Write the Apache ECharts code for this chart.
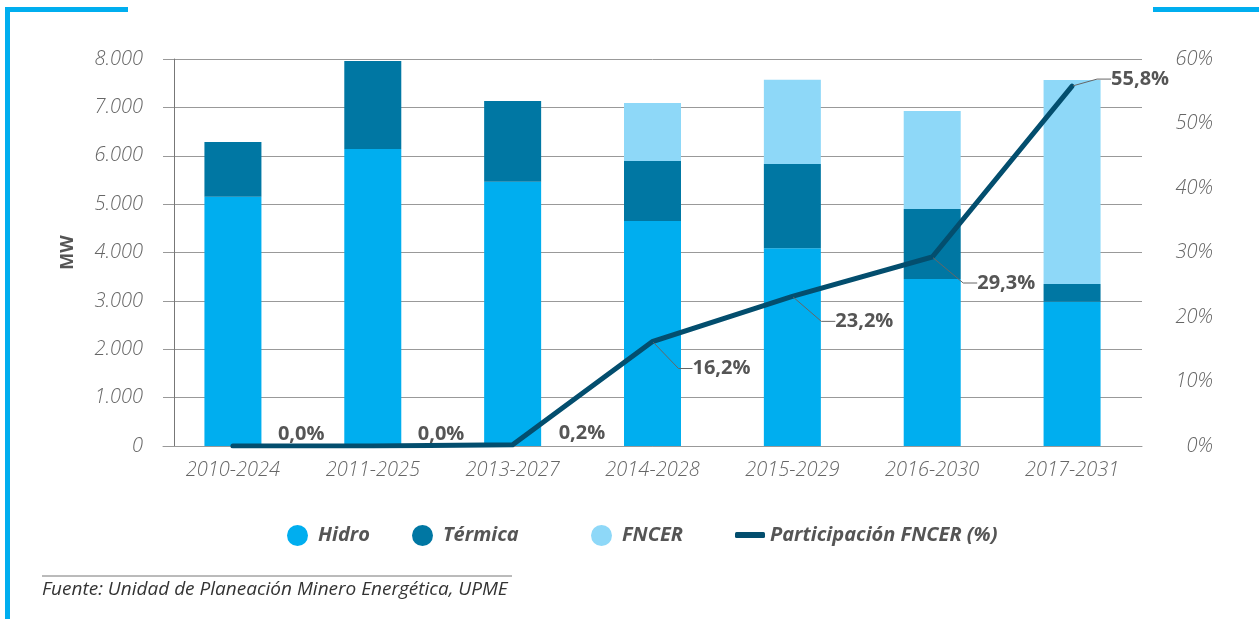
<!DOCTYPE html>
<html lang="es">
  <head>
    <meta charset="UTF-8" />
    <script src="https://cdn.jsdelivr.net/npm/echarts@6/dist/echarts.min.js"></script>
    <title>Capacidad por plan de expansión</title>
    <style>
      html,
      body,
      #main {
        width: 100%;
        height: 100%;
        margin: 0;
        padding: 0;
        overflow: hidden;
        background: #fff;
      }
    </style>
  </head>
  <body>
    <div id="main"></div>
    <script>
      // datos (MW y %)
      const periodos = ["2010-2024", "2011-2025", "2013-2027", "2014-2028", "2015-2029", "2016-2030", "2017-2031"];
      const hidro = [5150, 6140, 5460, 4650, 4090, 3450, 2980];
      const termica = [1135, 1820, 1670, 1240, 1740, 1450, 370];
      const fncer = [0, 0, 0, 1200, 1740, 2025, 4215];
      const participacion = [0.0, 0.0, 0.2, 16.2, 23.2, 29.3, 55.8];

      // desplazamiento de las etiquetas del % respecto al punto
      const labelShift = [[44, -12], [44, -12], [45, -11], [39, 27], [42, 25], [44, 26], [38, -7]];

      const font = "Open Sans";
      const azul = "#00AEEF";
      const myChart = echarts.init(document.getElementById("main"));

      const legendText = (pad) => ({
        fontFamily: font,
        fontSize: 20,
        fontStyle: "italic",
        fontWeight: "bold",
        color: "#555",
        padding: [0, 0, 0, pad],
      });

      const legendItem = (name, left, extra) =>
        Object.assign(
          {
            data: [name],
            left: left,
            top: 520,
            icon: "circle",
            itemWidth: 21,
            itemHeight: 22,
            selectedMode: false,
            textStyle: legendText(5),
          },
          extra || {}
        );

      const axisText = {
        fontFamily: font,
        fontSize: 20,
        fontStyle: "italic",
        fontWeight: 300,
        color: "#666",
      };

      const option = {
        animation: false,
        grid: { left: 163, right: 117, top: 59, bottom: 173 },
        legend: [
          legendItem("Hidro", 282),
          legendItem("Térmica", 407),
          legendItem("FNCER", 586),
          legendItem("Participación FNCER (%)", 730, {
            icon: "roundRect",
            itemWidth: 30,
            itemHeight: 6,
            textStyle: legendText(0),
          }),
        ],
        xAxis: {
          type: "category",
          data: periodos,
          axisLine: { lineStyle: { color: "#999", width: 1 } },
          axisTick: { show: false },
          axisLabel: Object.assign({ margin: 14 }, axisText),
        },
        yAxis: [
          {
            type: "value",
            min: 0,
            max: 8000,
            interval: 1000,
            offset: -11,
            name: "MW",
            nameLocation: "middle",
            nameGap: 97,
            nameTextStyle: {
              fontFamily: font,
              fontSize: 18,
              fontWeight: "bold",
              color: "#555",
            },
            axisLine: { show: true, lineStyle: { color: "#777", width: 1 } },
            axisTick: { show: false },
            axisLabel: Object.assign(
              {
                margin: 31,
                formatter: (v) => v.toLocaleString("de-DE"),
              },
              axisText
            ),
            splitLine: { lineStyle: { color: "#999", width: 1 } },
          },
          {
            type: "value",
            min: 0,
            max: 60,
            interval: 10,
            axisLine: { show: false },
            axisTick: { show: false },
            splitLine: { show: false },
            axisLabel: Object.assign(
              {
                margin: 71,
                align: "right",
                formatter: "{value}%",
              },
              axisText
            ),
          },
        ],
        series: [
          {
            name: "Hidro",
            type: "bar",
            stack: "mw",
            barWidth: 57,
            itemStyle: { color: azul },
            data: hidro,
          },
          {
            name: "Térmica",
            type: "bar",
            stack: "mw",
            barWidth: 57,
            itemStyle: { color: "#0077A3" },
            data: termica,
          },
          {
            name: "FNCER",
            type: "bar",
            stack: "mw",
            barWidth: 57,
            itemStyle: { color: "#8ED8F8" },
            data: fncer,
          },
          {
            name: "Participación FNCER (%)",
            type: "line",
            yAxisIndex: 1,
            z: 5,
            symbol: "circle",
            symbolSize: 2,
            lineStyle: { color: "#034E6E", width: 5, cap: "round", join: "miter" },
            itemStyle: { color: "#034E6E" },
            data: participacion.map((v, i) => (i < 3 ? { value: v, labelLine: { show: false } } : v)),
            label: {
              show: true,
              position: "right",
              distance: 0,
              fontFamily: font,
              fontSize: 20,
              fontWeight: "bold",
              color: "#555",
              formatter: (p) => p.value.toFixed(1).replace(".", ",") + "%",
            },
            labelLine: {
              show: true,
              length2: 14,
              lineStyle: { color: "#666", width: 1 },
            },
            labelLayout: (p) => ({ dx: labelShift[p.dataIndex][0], dy: labelShift[p.dataIndex][1] }),
          },
        ],
        graphic: [
          { type: "rect", shape: { x: 5, y: 7, width: 123, height: 5 }, style: { fill: azul } },
          { type: "rect", shape: { x: 5, y: 7, width: 5, height: 612 }, style: { fill: azul } },
          { type: "rect", shape: { x: 1153, y: 7, width: 106, height: 5 }, style: { fill: azul } },
          {
            type: "line",
            shape: { x1: 42, y1: 576, x2: 512, y2: 576 },
            style: { stroke: "#777", lineWidth: 1 },
          },
          {
            type: "text",
            left: 42,
            top: 580,
            style: {
              text: "Fuente: Unidad de Planeación Minero Energética, UPME",
              fontFamily: font,
              fontSize: 19,
              fontStyle: "italic",
              fill: "#333",
            },
          },
        ],
      };

      myChart.setOption(option);
    </script>
  </body>
</html>
